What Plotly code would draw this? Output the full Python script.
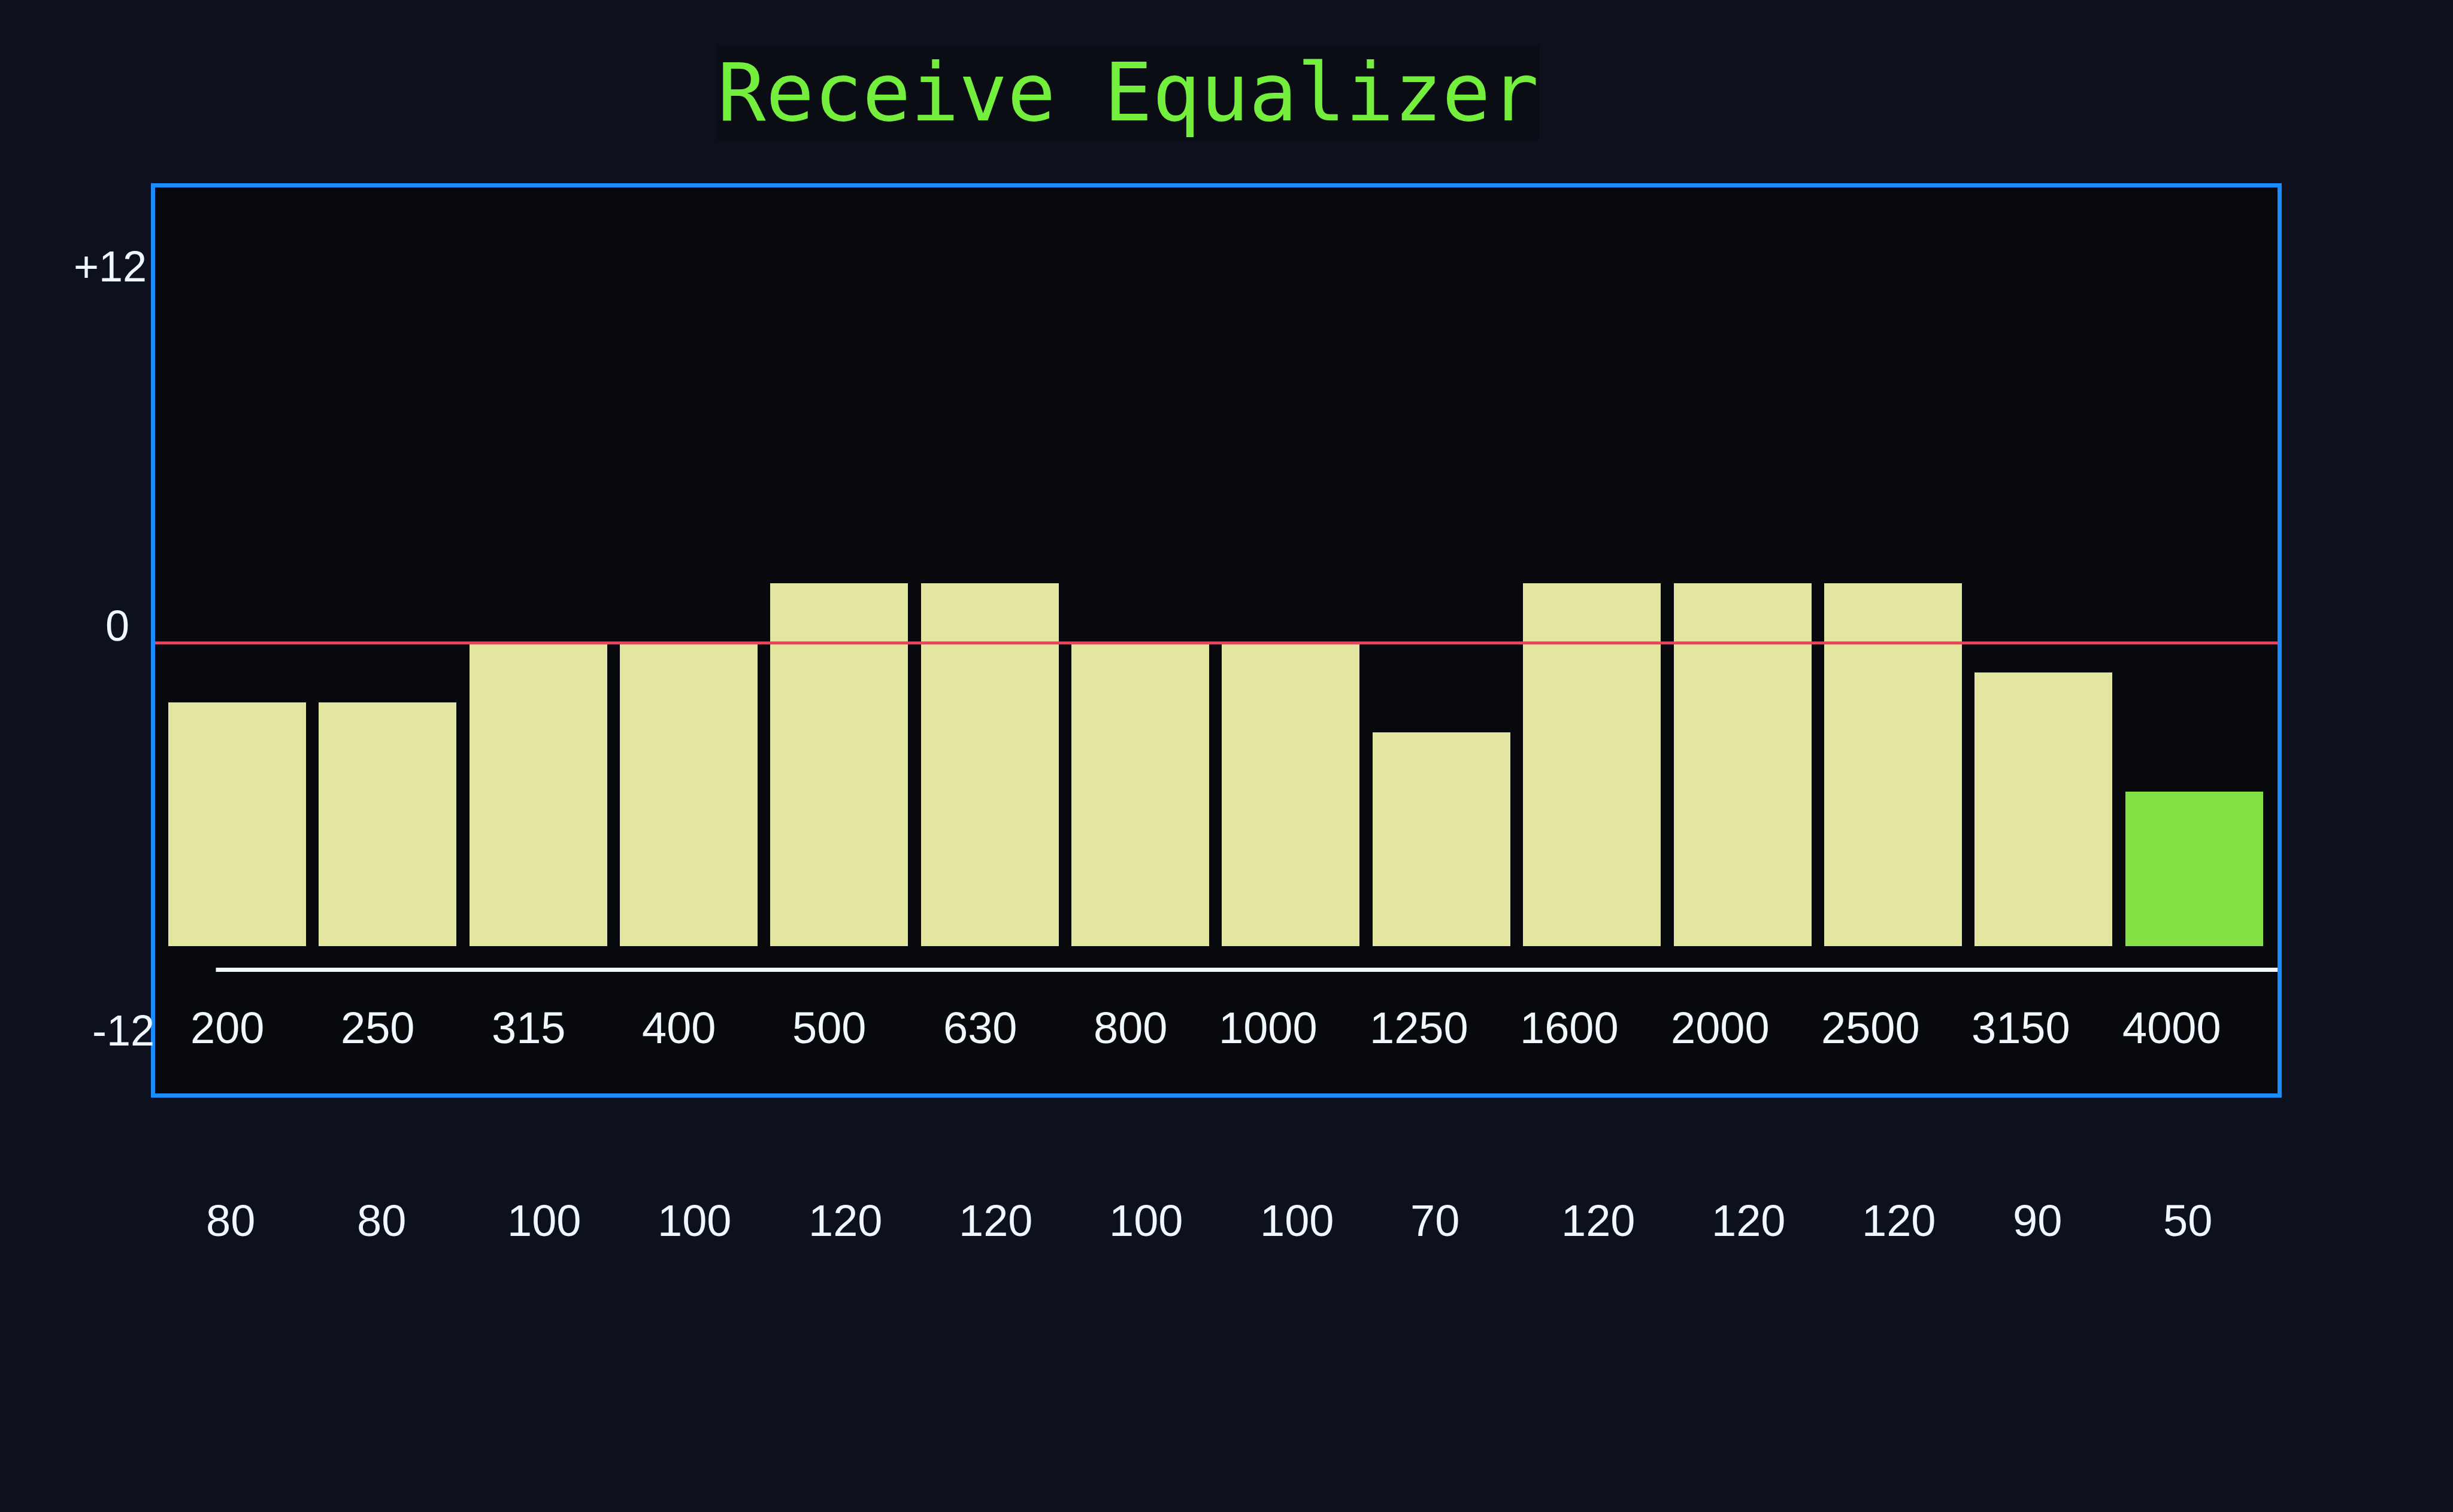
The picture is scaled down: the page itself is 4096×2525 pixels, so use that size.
import plotly.graph_objects as go

# ---------------- data ----------------
freq_labels = ["200", "250", "315", "400", "500", "630", "800",
               "1000", "1250", "1600", "2000", "2500", "3150", "4000"]
gain_db = [-2, -2, 0, 0, 2, 2, 0, 0, -3, 2, 2, 2, -1, -5]
q_labels = ["80", "80", "100", "100", "120", "120", "100",
            "100", "70", "120", "120", "120", "90", "50"]
y_labels = ["+12", "0", "-12"]
selected_band = 13
title_text = "Receive Equalizer"
bar_floor_db = -10.2      # bottom edge of the bars
baseline_db = -11         # white base line

# ---------------- geometry (output pixels) ----------------
W, H = 4096, 2525
S = W / 1568.0
ML, MR, MT, MB = 259, 293, 313, 699
plot_w = W - ML - MR
plot_h = H - MT - MB

x0_px = 151.5 * S          # pixel centre of first band
pitch = 96.23 * S          # pixels per band
zero_px = 411 * S          # pixel of 0 dB
per_db = 19 * S            # pixels per dB

x_range = [(ML - x0_px) / pitch, (W - MR - x0_px) / pitch]
y_range = [(zero_px - (H - MB)) / per_db, (zero_px - MT) / per_db]


def px_x(px):
    return (px - ML) / plot_w


def px_y(py):
    return ((H - MB) - py) / plot_h


def db_at(shown_y):
    return (411 - shown_y) / 19.0


bar_color = "#e3e6a1"
sel_color = "#82e044"
colors = [sel_color if i == selected_band else bar_color for i in range(len(gain_db))]
xs = list(range(len(freq_labels)))

fig = go.Figure()
fig.add_trace(go.Bar(
    x=xs,
    y=[g - bar_floor_db for g in gain_db],
    base=bar_floor_db,
    width=0.915,
    marker=dict(color=colors, line=dict(width=0)),
    hoverinfo="skip",
))

text_color = "#f0f8ff"
num_font = "Liberation Sans, Arial, sans-serif"
annotations = []

# title
annotations.append(dict(
    text=title_text, xref="paper", yref="paper",
    x=px_x(721 * S), y=px_y(59.5 * S), xanchor="center", yanchor="middle",
    showarrow=False, bgcolor="#0b0d14",
    font=dict(family="DejaVu Sans Mono, monospace", size=134, color="#74ef3e"),
))

# y labels
y_label_pos = [(94.6, 170.5, "right"), (75, 400, "center"), (99.5, 658.7, "right")]
for lab, (sx, sy, anc) in zip(y_labels, y_label_pos):
    annotations.append(dict(
        text=lab, xref="paper", yref="y", x=px_x(sx * S), y=db_at(sy),
        xanchor=anc, yanchor="middle", showarrow=False,
        font=dict(family=num_font, size=72, color=text_color),
    ))

# frequency labels (right aligned) and Q labels (left aligned, below the frame)
for i, (f, q) in enumerate(zip(freq_labels, q_labels)):
    annotations.append(dict(
        text=f, xref="x", yref="y", x=i, y=db_at(657), xshift=18 * S,
        xanchor="right", yanchor="middle", showarrow=False,
        font=dict(family=num_font, size=74, color=text_color),
    ))
    annotations.append(dict(
        text=q, xref="x", yref="paper", x=i, y=px_y(780.5 * S), xshift=-20.5 * S,
        xanchor="left", yanchor="middle", showarrow=False,
        font=dict(family=num_font, size=74, color=text_color),
    ))

shapes = [
    # red 0 dB line
    dict(type="line", xref="paper", yref="y", x0=0, x1=1, y0=0, y1=0,
         line=dict(color="#f0405c", width=5), layer="above"),
    # white base line
    dict(type="line", xref="x", yref="y", x0=(138 * S - x0_px) / pitch, x1=x_range[1],
         y0=baseline_db, y1=baseline_db,
         line=dict(color="#f2faff", width=7), layer="above"),
]

frame_color = "#1a8cff"
fig.update_layout(
    width=W, height=H,
    margin=dict(l=ML, r=MR, t=MT, b=MB, pad=0),
    paper_bgcolor="#0d111d",
    plot_bgcolor="#07090d",
    showlegend=False,
    bargap=0,
    xaxis=dict(range=x_range, showgrid=False, zeroline=False, showticklabels=False,
               ticks="", showline=True, mirror=True, linecolor=frame_color, linewidth=7,
               fixedrange=True),
    yaxis=dict(range=y_range, showgrid=False, zeroline=False, showticklabels=False,
               ticks="", showline=True, mirror=True, linecolor=frame_color, linewidth=7,
               fixedrange=True),
    annotations=annotations,
    shapes=shapes,
)

fig.write_html("out.html")
